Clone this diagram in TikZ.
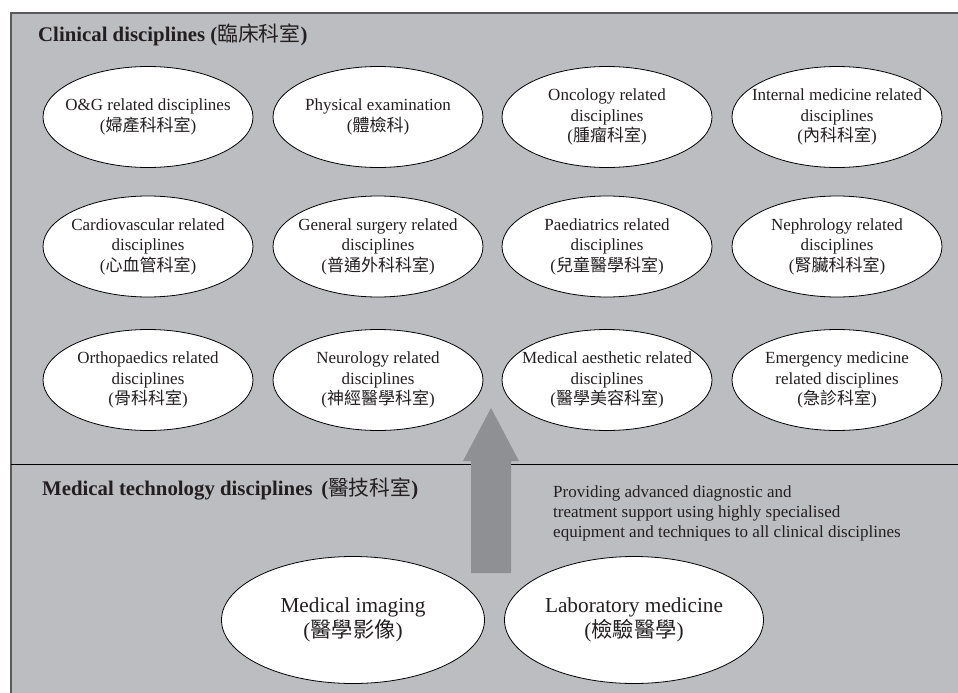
\documentclass[tikz,border=0pt]{standalone}
\usepackage{fontspec}
\setmainfont{Liberation Serif}
\newfontfamily\cjk{Noto Sans CJK TC}
\usetikzlibrary{shapes.geometric}
\definecolor{panel}{RGB}{188,189,193}
\definecolor{blockarrow}{RGB}{143,144,148}
\definecolor{ink}{RGB}{35,31,32}
\definecolor{frameline}{RGB}{90,90,92}
\newcommand\zh[1]{{\cjk #1}}
\tikzset{
  disc/.style={ellipse, draw=black, line width=0.8pt, fill=white,
    minimum width=210pt, minimum height=101pt, inner sep=0pt},
  tech/.style={ellipse, draw=black, line width=0.8pt, fill=white,
    minimum height=127pt, inner sep=0pt},
  disctext/.style={align=center, inner sep=0pt, text=ink,
    font=\fontsize{17}{20.5}\selectfont},
  techtext/.style={align=center, inner sep=0pt, text=ink,
    font=\fontsize{21.3}{25}\selectfont},
  heading/.style={anchor=base west, inner sep=0pt, text=ink,
    font=\fontsize{20.8}{25}\selectfont\bfseries},
  note/.style={anchor=base west, inner sep=0pt, text=ink, align=left,
    font=\fontsize{17}{20}\selectfont}
}
\begin{document}
\begin{tikzpicture}[x=1pt,y=-1pt]
\useasboundingbox (0,0) rectangle (958,693);

% panel and frame
\fill[panel] (11,13) rectangle (958,693);
\draw[frameline, line width=1.4pt] (11,693) -- (11,13) -- (958,13);

% divider between the two groups
\coordinate (divL) at (11,464);
\coordinate (divR) at (958,464);
\draw[black, line width=0.8pt] (divL) -- (divR);

% upward block arrow
\fill[blockarrow] (471,573) -- (471,461) -- (463,461) -- (491,408)
  -- (519,461) -- (511,461) -- (511,573) -- cycle;

% headings
\node[heading] (clin) at (38,42) {Clinical disciplines (\zh{\mdseries 臨床科室})};
\node[heading] (medtech) at (42,495) {Medical technology disciplines\ \,(\zh{\mdseries 醫技科室})};

% the base anchor of a multi-line node sits on its last line
\node[note] (desc) at (553,537) {Providing advanced diagnostic and\\
treatment support using highly specialised\\
equipment and techniques to all clinical disciplines};

% clinical disciplines
\node[disc] (og) at (148,117) {};
\node[disctext] (ogT) at (og) {O\&G related disciplines\\(\zh{婦產科科室})};
\node[disc] (phys) at (378,117) {};
\node[disctext] (physT) at (phys) {Physical examination\\(\zh{體檢科})};
\node[disc] (onc) at (607,117) {};
\node[disctext] (oncT) at (onc) {Oncology related\\disciplines\\(\zh{腫瘤科室})};
\node[disc] (intm) at (837,117) {};
\node[disctext] (intmT) at (intm) {Internal medicine related\\disciplines\\(\zh{內科科室})};

\node[disc] (card) at (148,246.5) {};
\node[disctext] (cardT) at (card) {Cardiovascular related\\disciplines\\(\zh{心血管科室})};
\node[disc] (surg) at (378,246.5) {};
\node[disctext] (surgT) at (surg) {General surgery related\\disciplines\\(\zh{普通外科科室})};
\node[disc] (paed) at (607,246.5) {};
\node[disctext] (paedT) at (paed) {Paediatrics related\\disciplines\\(\zh{兒童醫學科室})};
\node[disc] (neph) at (837,246.5) {};
\node[disctext] (nephT) at (neph) {Nephrology related\\disciplines\\(\zh{腎臟科科室})};

\node[disc] (orth) at (148,380) {};
\node[disctext] (orthT) at (orth) {Orthopaedics related\\disciplines\\(\zh{骨科科室})};
\node[disc] (neur) at (378,380) {};
\node[disctext] (neurT) at (neur) {Neurology related\\disciplines\\(\zh{神經醫學科室})};
\node[disc] (aest) at (607,380) {};
\node[disctext] (aestT) at (aest) {Medical aesthetic related\\disciplines\\(\zh{醫學美容科室})};
\node[disc] (emer) at (837,380) {};
\node[disctext] (emerT) at (emer) {Emergency medicine\\related disciplines\\(\zh{急診科室})};

% medical technology disciplines
\node[tech, minimum width=263pt] (img) at (353,620) {};
\node[techtext] (imgT) at (img) {Medical imaging\\(\zh{醫學影像})};
\node[tech, minimum width=259pt] (lab) at (634,620) {};
\node[techtext] (labT) at (lab) {Laboratory medicine\\(\zh{檢驗醫學})};
\end{tikzpicture}
\end{document}
